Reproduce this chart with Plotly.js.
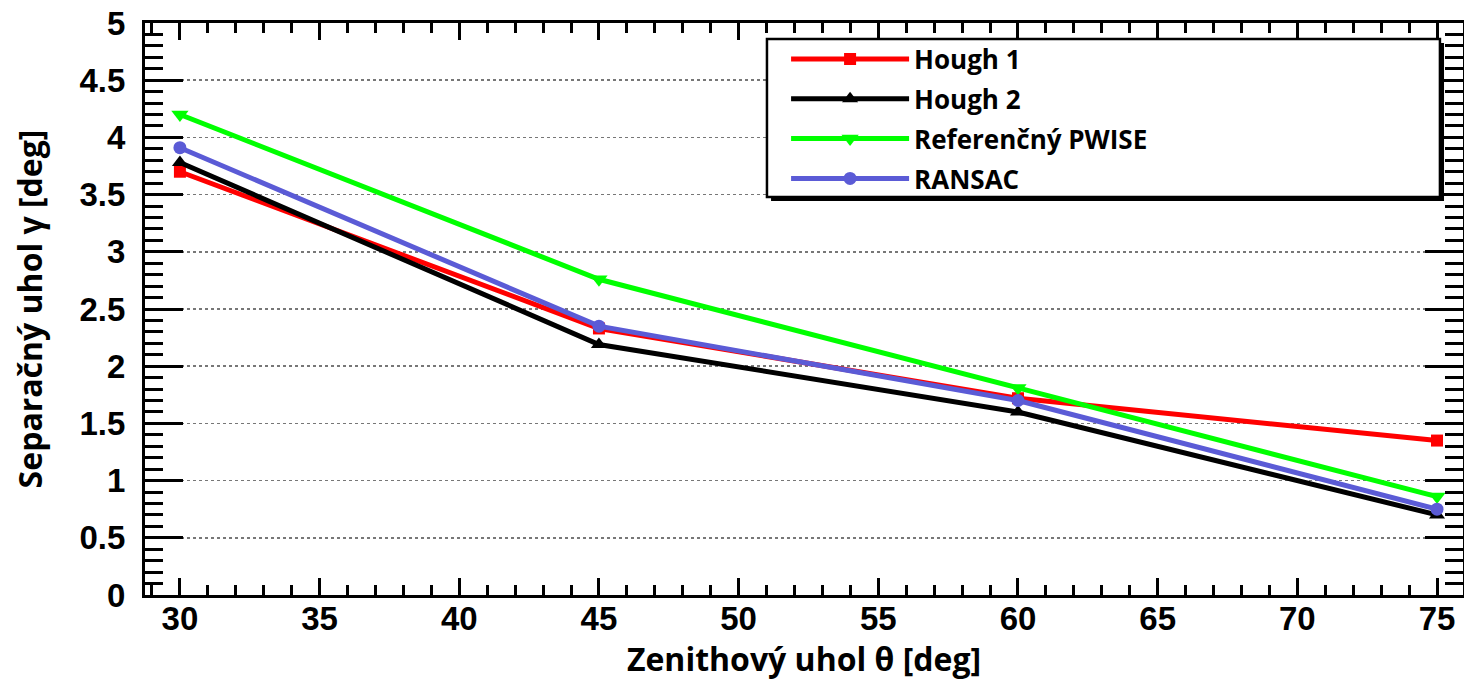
<!DOCTYPE html>
<html>
<head>
<meta charset="utf-8">
<script src="https://cdn.plot.ly/plotly-3.0.1.min.js"></script>
<style>
html, body { margin: 0; padding: 0; background: #ffffff; }
#chart { width: 1464px; height: 681px; }
</style>
</head>
<body>
<div id="chart"></div>
<script>
// Data
const zenithAngles = [30, 45, 60, 75];
const hough1 = [3.70, 2.33, 1.72, 1.35];
const hough2 = [3.78, 2.19, 1.60, 0.70];
const pwise = [4.20, 2.76, 1.81, 0.86];
const ransac = [3.91, 2.35, 1.70, 0.75];
const seriesNames = ["Hough 1", "Hough 2", "Referenčný PWISE", "RANSAC"];
const xTitle = "Zenithový uhol θ [deg]";
const yTitle = "Separačný uhol γ [deg]";

const seriesValues = [hough1, hough2, pwise, ransac];
const seriesColors = ["#ff0000", "#000000", "#00ff00", "#5b5bd6"];
const seriesSymbols = ["square", "triangle-up", "triangle-down", "circle"];
const seriesSizes = [12, 14, 15, 13];

const traces = seriesValues.map((vals, i) => ({
  type: "scatter",
  mode: "lines+markers",
  name: seriesNames[i],
  legendgroup: "g" + i,
  x: zenithAngles,
  y: vals,
  line: { color: seriesColors[i], width: 5 },
  marker: { color: seriesColors[i], symbol: seriesSymbols[i], size: seriesSizes[i] },
  cliponaxis: false
}));

const tickFont = { family: "Liberation Sans", size: 33, color: "#000000", weight: 700 };
const titleFont = { family: "Open Sans", size: 32, color: "#000000", weight: 700 };

const layout = {
  width: 1464,
  height: 681,
  margin: { l: 145, r: 1, t: 23, b: 86 },
  paper_bgcolor: "#ffffff",
  plot_bgcolor: "#ffffff",
  showlegend: true,
  legend: {
    x: 0.4704 + 0.016, y: 0.978,
    xanchor: "left", yanchor: "top",
    bgcolor: "rgba(0,0,0,0)",
    borderwidth: 0,
    itemwidth: 118,
    tracegroupgap: 3,
    font: { family: "Open Sans", size: 26, color: "#000000", weight: 700 }
  },
  xaxis: {
    range: [28.75, 75.93],
    tickmode: "linear", tick0: 30, dtick: 5,
    ticks: "inside", ticklen: 17, tickwidth: 3, tickcolor: "#000000",
    minor: { dtick: 1, ticks: "inside", ticklen: 10, tickwidth: 3, tickcolor: "#000000", showgrid: false },
    showline: true, linewidth: 3, linecolor: "#000000", mirror: "ticks",
    showgrid: false, zeroline: false,
    tickfont: tickFont,
    ticklabelstandoff: -8,
    title: { text: xTitle, font: titleFont, standoff: 6 }
  },
  yaxis: {
    range: [0, 5],
    tickmode: "linear", tick0: 0, dtick: 0.5,
    ticks: "inside", ticklen: 38, tickwidth: 3, tickcolor: "#000000",
    minor: { dtick: 0.1, ticks: "inside", ticklen: 18, tickwidth: 3, tickcolor: "#000000", showgrid: false },
    showline: true, linewidth: 3, linecolor: "#000000", mirror: "ticks",
    showgrid: true, gridcolor: "#777777", gridwidth: 1.5, griddash: "dot",
    zeroline: false,
    tickfont: tickFont,
    ticklabelstandoff: 10,
    title: { text: yTitle, font: titleFont, standoff: 28 }
  },
  shapes: [
    { type: "rect", xref: "paper", yref: "paper", x0: 0.4750, x1: 0.9856, y0: 0.6888, y1: 0.9650,
      line: { width: 0 }, fillcolor: "#000000", layer: "above" },
    { type: "rect", xref: "paper", yref: "paper", x0: 0.4719, x1: 0.9825, y0: 0.6958, y1: 0.9720,
      line: { width: 2.5, color: "#000000" }, fillcolor: "#ffffff", layer: "above" }
  ]
};

Plotly.newPlot("chart", traces, layout, { displayModeBar: false, staticPlot: true });
</script>
</body>
</html>
